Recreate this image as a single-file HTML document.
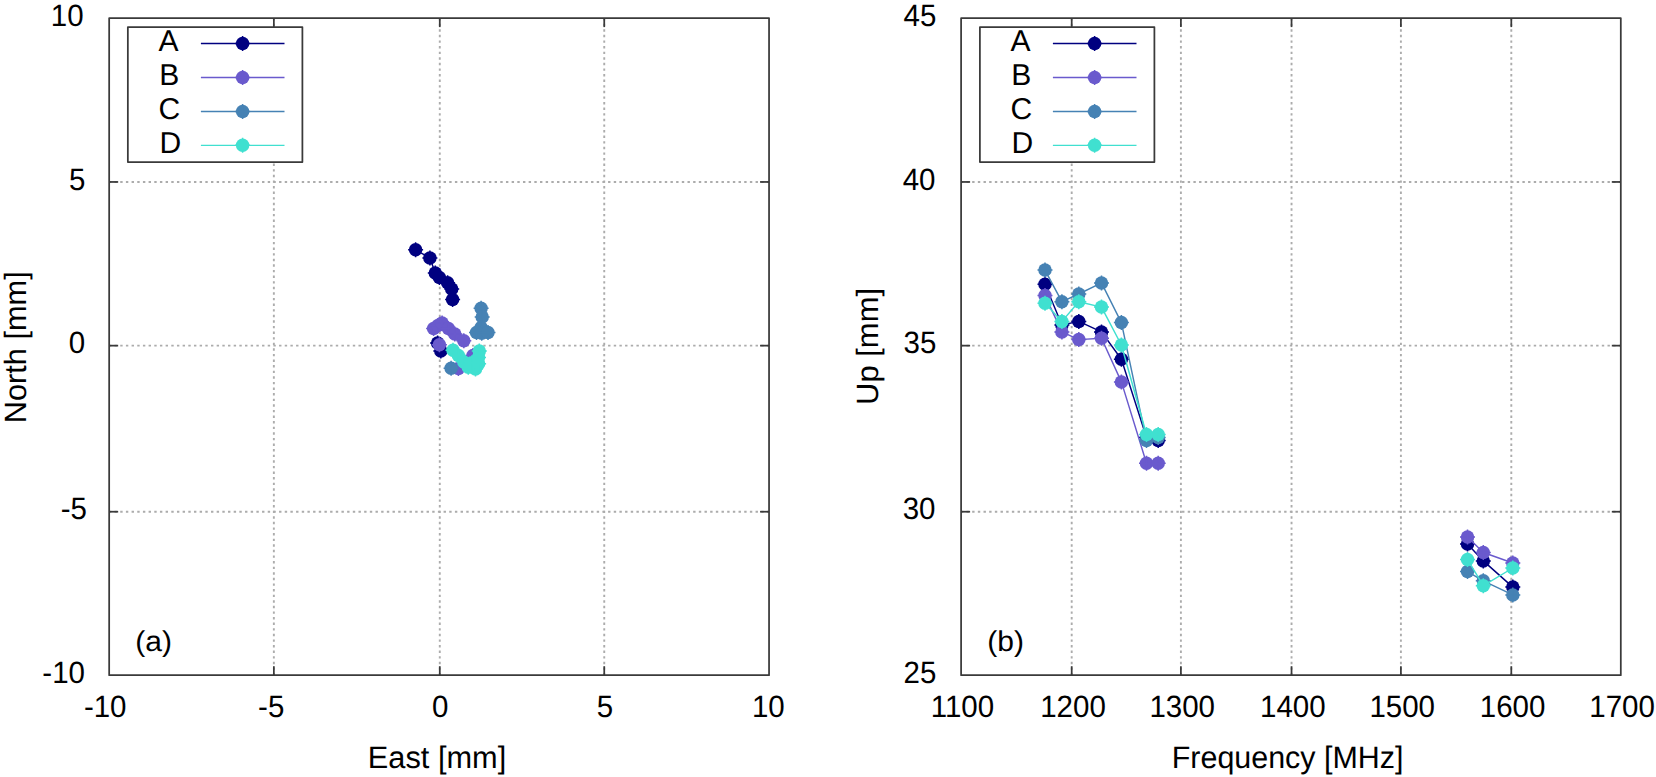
<!DOCTYPE html>
<html lang="en">
<head>
<meta charset="utf-8">
<title>Antenna phase centre offsets</title>
<style>
html,body{margin:0;padding:0;background:#fff;}
body{width:1656px;height:777px;overflow:hidden;}
svg{display:block;}
text{font-family:"Liberation Sans",Arial,Helvetica,sans-serif;font-size:29.5px;fill:#000;text-rendering:geometricPrecision;}
.b{stroke:#3a3a3a;stroke-width:1.75;stroke-linecap:butt;stroke-linejoin:round;}
.g{stroke:#acacac;stroke-width:1.9;fill:none;}
.gh{stroke-dasharray:2.4 3.2725;stroke-dashoffset:0.28;}
.gv{stroke-dasharray:2.4 3.198;stroke-dashoffset:0.206;}
</style>
</head>
<body>
<svg width="1656" height="777" viewBox="0 0 1656 777">
<defs><g id="mk"><circle r="6.75" stroke="none"/><path d="M-7.5,0H7.5M0,-7.5V7.5" stroke-width="1.5" fill="none"/></g></defs>
<rect x="0" y="0" width="1656" height="777" fill="#fff"/>
<g>
<line class="g gv" x1="273.85" y1="675.20" x2="273.85" y2="18.10"/>
<line class="g gv" x1="439.78" y1="675.20" x2="439.78" y2="18.10"/>
<line class="g gv" x1="604.24" y1="675.20" x2="604.24" y2="18.10"/>
<line class="g gh" x1="109.17" y1="181.95" x2="769.05" y2="181.95"/>
<line class="g gh" x1="109.17" y1="345.64" x2="769.05" y2="345.64"/>
<line class="g gh" x1="109.17" y1="511.72" x2="769.05" y2="511.72"/>
<line class="b" x1="273.85" y1="675.20" x2="273.85" y2="666.20"/>
<line class="b" x1="273.85" y1="18.10" x2="273.85" y2="27.10"/>
<line class="b" x1="439.78" y1="675.20" x2="439.78" y2="666.20"/>
<line class="b" x1="439.78" y1="18.10" x2="439.78" y2="27.10"/>
<line class="b" x1="604.24" y1="675.20" x2="604.24" y2="666.20"/>
<line class="b" x1="604.24" y1="18.10" x2="604.24" y2="27.10"/>
<line class="b" x1="109.17" y1="181.95" x2="118.17" y2="181.95"/>
<line class="b" x1="769.05" y1="181.95" x2="760.05" y2="181.95"/>
<line class="b" x1="109.17" y1="345.64" x2="118.17" y2="345.64"/>
<line class="b" x1="769.05" y1="345.64" x2="760.05" y2="345.64"/>
<line class="b" x1="109.17" y1="511.72" x2="118.17" y2="511.72"/>
<line class="b" x1="769.05" y1="511.72" x2="760.05" y2="511.72"/>
<rect class="b" x="109.17" y="18.10" width="659.88" height="657.10" fill="none"/>
<polyline points="415.6,249.8 429.9,258.0 435.3,272.9 439.4,277.5 447.6,282.7 451.7,288.9 452.6,299.4" fill="none" stroke="#000080" stroke-width="1.45" stroke-linejoin="round"/>
<use href="#mk" x="415.6" y="249.8" fill="#000080" stroke="#000080"/>
<use href="#mk" x="429.9" y="258.0" fill="#000080" stroke="#000080"/>
<use href="#mk" x="435.3" y="272.9" fill="#000080" stroke="#000080"/>
<use href="#mk" x="439.4" y="277.5" fill="#000080" stroke="#000080"/>
<use href="#mk" x="447.6" y="282.7" fill="#000080" stroke="#000080"/>
<use href="#mk" x="451.7" y="288.9" fill="#000080" stroke="#000080"/>
<use href="#mk" x="452.6" y="299.4" fill="#000080" stroke="#000080"/>
<polyline points="437.6,343.0 440.8,351.1" fill="none" stroke="#000080" stroke-width="1.45" stroke-linejoin="round"/>
<use href="#mk" x="437.6" y="343.0" fill="#000080" stroke="#000080"/>
<use href="#mk" x="440.8" y="351.1" fill="#000080" stroke="#000080"/>
<polyline points="433.6,328.5 438.0,325.6 442.1,323.1 448.4,328.5 454.8,333.9 463.8,340.7" fill="none" stroke="#6A5ACD" stroke-width="1.45" stroke-linejoin="round"/>
<use href="#mk" x="433.6" y="328.5" fill="#6A5ACD" stroke="#6A5ACD"/>
<use href="#mk" x="438.0" y="325.6" fill="#6A5ACD" stroke="#6A5ACD"/>
<use href="#mk" x="442.1" y="323.1" fill="#6A5ACD" stroke="#6A5ACD"/>
<use href="#mk" x="448.4" y="328.5" fill="#6A5ACD" stroke="#6A5ACD"/>
<use href="#mk" x="454.8" y="333.9" fill="#6A5ACD" stroke="#6A5ACD"/>
<use href="#mk" x="463.8" y="340.7" fill="#6A5ACD" stroke="#6A5ACD"/>
<use href="#mk" x="439.4" y="344.8" fill="#6A5ACD" stroke="#6A5ACD"/>
<use href="#mk" x="473.0" y="355.6" fill="#6A5ACD" stroke="#6A5ACD"/>
<use href="#mk" x="458.4" y="368.6" fill="#6A5ACD" stroke="#6A5ACD"/>
<polyline points="481.1,308.3 482.2,317.0 481.1,327.4 481.7,333.2 476.5,332.4 488.0,332.6" fill="none" stroke="#4682B4" stroke-width="1.45" stroke-linejoin="round"/>
<use href="#mk" x="481.1" y="308.3" fill="#4682B4" stroke="#4682B4"/>
<use href="#mk" x="482.2" y="317.0" fill="#4682B4" stroke="#4682B4"/>
<use href="#mk" x="481.1" y="327.4" fill="#4682B4" stroke="#4682B4"/>
<use href="#mk" x="481.7" y="333.2" fill="#4682B4" stroke="#4682B4"/>
<use href="#mk" x="476.5" y="332.4" fill="#4682B4" stroke="#4682B4"/>
<use href="#mk" x="488.0" y="332.6" fill="#4682B4" stroke="#4682B4"/>
<use href="#mk" x="451.1" y="368.2" fill="#4682B4" stroke="#4682B4"/>
<polyline points="453.0,350.2 458.4,355.6 463.8,361.9 468.3,367.3 475.5,369.1 478.6,363.7 471.9,362.8 478.5,357.4 479.3,351.1" fill="none" stroke="#40E0D0" stroke-width="1.45" stroke-linejoin="round"/>
<use href="#mk" x="453.0" y="350.2" fill="#40E0D0" stroke="#40E0D0"/>
<use href="#mk" x="458.4" y="355.6" fill="#40E0D0" stroke="#40E0D0"/>
<use href="#mk" x="463.8" y="361.9" fill="#40E0D0" stroke="#40E0D0"/>
<use href="#mk" x="468.3" y="367.3" fill="#40E0D0" stroke="#40E0D0"/>
<use href="#mk" x="475.5" y="369.1" fill="#40E0D0" stroke="#40E0D0"/>
<use href="#mk" x="478.6" y="363.7" fill="#40E0D0" stroke="#40E0D0"/>
<use href="#mk" x="471.9" y="362.8" fill="#40E0D0" stroke="#40E0D0"/>
<use href="#mk" x="478.5" y="357.4" fill="#40E0D0" stroke="#40E0D0"/>
<use href="#mk" x="479.3" y="351.1" fill="#40E0D0" stroke="#40E0D0"/>
<rect class="b" x="127.85" y="27.00" width="174.55" height="135.00" fill="#fff"/>
<text transform="translate(158.60,51.30) scale(1.02,1.02)" text-anchor="start" style="font-size:29.5px">A</text>
<line x1="200.90" y1="43.55" x2="284.50" y2="43.55" stroke="#000080" stroke-width="1.45"/>
<use href="#mk" x="242.60" y="43.55" fill="#000080" stroke="#000080"/>
<text transform="translate(159.30,84.75) scale(1.02,1.02)" text-anchor="start" style="font-size:29.5px">B</text>
<line x1="200.90" y1="77.45" x2="284.50" y2="77.45" stroke="#6A5ACD" stroke-width="1.45"/>
<use href="#mk" x="242.60" y="77.45" fill="#6A5ACD" stroke="#6A5ACD"/>
<text transform="translate(158.60,118.75) scale(1.02,1.02)" text-anchor="start" style="font-size:29.5px">C</text>
<line x1="200.90" y1="111.45" x2="284.50" y2="111.45" stroke="#4682B4" stroke-width="1.45"/>
<use href="#mk" x="242.60" y="111.45" fill="#4682B4" stroke="#4682B4"/>
<text transform="translate(159.50,152.65) scale(1.02,1.02)" text-anchor="start" style="font-size:29.5px">D</text>
<line x1="200.90" y1="145.35" x2="284.50" y2="145.35" stroke="#40E0D0" stroke-width="1.45"/>
<use href="#mk" x="242.60" y="145.35" fill="#40E0D0" stroke="#40E0D0"/>
<text transform="translate(83.60,26.40) scale(1.0,1.045)" text-anchor="end" style="font-size:29.5px">10</text>
<text transform="translate(85.40,189.65) scale(1.0,1.045)" text-anchor="end" style="font-size:29.5px">5</text>
<text transform="translate(85.20,353.19) scale(1.0,1.045)" text-anchor="end" style="font-size:29.5px">0</text>
<text transform="translate(87.00,519.47) scale(1.0,1.045)" text-anchor="end" style="font-size:29.5px">-5</text>
<text transform="translate(85.00,682.75) scale(1.0,1.045)" text-anchor="end" style="font-size:29.5px">-10</text>
<text transform="translate(105.20,717.10) scale(1.0,1.045)" text-anchor="middle" style="font-size:29.5px">-10</text>
<text transform="translate(271.20,717.10) scale(1.0,1.045)" text-anchor="middle" style="font-size:29.5px">-5</text>
<text transform="translate(440.30,717.10) scale(1.0,1.045)" text-anchor="middle" style="font-size:29.5px">0</text>
<text transform="translate(605.00,717.10) scale(1.0,1.045)" text-anchor="middle" style="font-size:29.5px">5</text>
<text transform="translate(768.30,717.10) scale(1.0,1.045)" text-anchor="middle" style="font-size:29.5px">10</text>
<text transform="translate(437.00,767.80) scale(1,1.01)" text-anchor="middle" style="font-size:30.75px">East [mm]</text>
<text transform="translate(26.20,347.30) rotate(-90) scale(1,1.0)" text-anchor="middle" style="font-size:30.75px">North [mm]</text>
<text transform="translate(135.30,650.70) scale(1.018,0.975)" text-anchor="start" style="font-size:29.5px">(a)</text>
</g>
<g>
<line class="g gv" x1="1071.70" y1="675.20" x2="1071.70" y2="18.10"/>
<line class="g gv" x1="1180.90" y1="675.20" x2="1180.90" y2="18.10"/>
<line class="g gv" x1="1291.54" y1="675.20" x2="1291.54" y2="18.10"/>
<line class="g gv" x1="1400.90" y1="675.20" x2="1400.90" y2="18.10"/>
<line class="g gv" x1="1511.30" y1="675.20" x2="1511.30" y2="18.10"/>
<line class="g gh" x1="961.10" y1="181.95" x2="1620.80" y2="181.95"/>
<line class="g gh" x1="961.10" y1="345.64" x2="1620.80" y2="345.64"/>
<line class="g gh" x1="961.10" y1="511.72" x2="1620.80" y2="511.72"/>
<line class="b" x1="1071.70" y1="675.20" x2="1071.70" y2="666.20"/>
<line class="b" x1="1071.70" y1="18.10" x2="1071.70" y2="27.10"/>
<line class="b" x1="1180.90" y1="675.20" x2="1180.90" y2="666.20"/>
<line class="b" x1="1180.90" y1="18.10" x2="1180.90" y2="27.10"/>
<line class="b" x1="1291.54" y1="675.20" x2="1291.54" y2="666.20"/>
<line class="b" x1="1291.54" y1="18.10" x2="1291.54" y2="27.10"/>
<line class="b" x1="1400.90" y1="675.20" x2="1400.90" y2="666.20"/>
<line class="b" x1="1400.90" y1="18.10" x2="1400.90" y2="27.10"/>
<line class="b" x1="1511.30" y1="675.20" x2="1511.30" y2="666.20"/>
<line class="b" x1="1511.30" y1="18.10" x2="1511.30" y2="27.10"/>
<line class="b" x1="961.10" y1="181.95" x2="970.10" y2="181.95"/>
<line class="b" x1="1620.80" y1="181.95" x2="1611.80" y2="181.95"/>
<line class="b" x1="961.10" y1="345.64" x2="970.10" y2="345.64"/>
<line class="b" x1="1620.80" y1="345.64" x2="1611.80" y2="345.64"/>
<line class="b" x1="961.10" y1="511.72" x2="970.10" y2="511.72"/>
<line class="b" x1="1620.80" y1="511.72" x2="1611.80" y2="511.72"/>
<rect class="b" x="961.10" y="18.10" width="659.70" height="657.10" fill="none"/>
<polyline points="1045.0,284.3 1061.9,325.0 1078.8,321.4 1101.5,331.9 1121.4,359.3 1146.5,437.5 1158.2,440.6" fill="none" stroke="#000080" stroke-width="1.45" stroke-linejoin="round"/>
<use href="#mk" x="1045.0" y="284.3" fill="#000080" stroke="#000080"/>
<use href="#mk" x="1061.9" y="325.0" fill="#000080" stroke="#000080"/>
<use href="#mk" x="1078.8" y="321.4" fill="#000080" stroke="#000080"/>
<use href="#mk" x="1101.5" y="331.9" fill="#000080" stroke="#000080"/>
<use href="#mk" x="1121.4" y="359.3" fill="#000080" stroke="#000080"/>
<use href="#mk" x="1146.5" y="437.5" fill="#000080" stroke="#000080"/>
<use href="#mk" x="1158.2" y="440.6" fill="#000080" stroke="#000080"/>
<polyline points="1467.5,544.0 1483.3,560.9 1512.8,587.1" fill="none" stroke="#000080" stroke-width="1.45" stroke-linejoin="round"/>
<use href="#mk" x="1467.5" y="544.0" fill="#000080" stroke="#000080"/>
<use href="#mk" x="1483.3" y="560.9" fill="#000080" stroke="#000080"/>
<use href="#mk" x="1512.8" y="587.1" fill="#000080" stroke="#000080"/>
<polyline points="1045.0,295.6 1061.9,331.9 1078.8,339.6 1101.5,338.3 1121.4,381.9 1146.5,463.3 1158.2,463.3" fill="none" stroke="#6A5ACD" stroke-width="1.45" stroke-linejoin="round"/>
<use href="#mk" x="1045.0" y="295.6" fill="#6A5ACD" stroke="#6A5ACD"/>
<use href="#mk" x="1061.9" y="331.9" fill="#6A5ACD" stroke="#6A5ACD"/>
<use href="#mk" x="1078.8" y="339.6" fill="#6A5ACD" stroke="#6A5ACD"/>
<use href="#mk" x="1101.5" y="338.3" fill="#6A5ACD" stroke="#6A5ACD"/>
<use href="#mk" x="1121.4" y="381.9" fill="#6A5ACD" stroke="#6A5ACD"/>
<use href="#mk" x="1146.5" y="463.3" fill="#6A5ACD" stroke="#6A5ACD"/>
<use href="#mk" x="1158.2" y="463.3" fill="#6A5ACD" stroke="#6A5ACD"/>
<polyline points="1467.5,536.9 1483.3,552.5 1512.8,563.0" fill="none" stroke="#6A5ACD" stroke-width="1.45" stroke-linejoin="round"/>
<use href="#mk" x="1467.5" y="536.9" fill="#6A5ACD" stroke="#6A5ACD"/>
<use href="#mk" x="1483.3" y="552.5" fill="#6A5ACD" stroke="#6A5ACD"/>
<use href="#mk" x="1512.8" y="563.0" fill="#6A5ACD" stroke="#6A5ACD"/>
<polyline points="1045.0,270.1 1061.9,301.7 1078.8,294.0 1101.5,282.9 1121.4,322.6 1146.5,440.6 1158.2,437.5" fill="none" stroke="#4682B4" stroke-width="1.45" stroke-linejoin="round"/>
<use href="#mk" x="1045.0" y="270.1" fill="#4682B4" stroke="#4682B4"/>
<use href="#mk" x="1061.9" y="301.7" fill="#4682B4" stroke="#4682B4"/>
<use href="#mk" x="1078.8" y="294.0" fill="#4682B4" stroke="#4682B4"/>
<use href="#mk" x="1101.5" y="282.9" fill="#4682B4" stroke="#4682B4"/>
<use href="#mk" x="1121.4" y="322.6" fill="#4682B4" stroke="#4682B4"/>
<use href="#mk" x="1146.5" y="440.6" fill="#4682B4" stroke="#4682B4"/>
<use href="#mk" x="1158.2" y="437.5" fill="#4682B4" stroke="#4682B4"/>
<polyline points="1467.5,571.6 1483.3,580.8 1512.8,594.9" fill="none" stroke="#4682B4" stroke-width="1.45" stroke-linejoin="round"/>
<use href="#mk" x="1467.5" y="571.6" fill="#4682B4" stroke="#4682B4"/>
<use href="#mk" x="1483.3" y="580.8" fill="#4682B4" stroke="#4682B4"/>
<use href="#mk" x="1512.8" y="594.9" fill="#4682B4" stroke="#4682B4"/>
<polyline points="1045.0,303.3 1061.9,321.4 1078.8,301.7 1101.5,307.1 1121.4,345.0 1146.5,434.5 1158.2,434.5" fill="none" stroke="#40E0D0" stroke-width="1.45" stroke-linejoin="round"/>
<use href="#mk" x="1045.0" y="303.3" fill="#40E0D0" stroke="#40E0D0"/>
<use href="#mk" x="1061.9" y="321.4" fill="#40E0D0" stroke="#40E0D0"/>
<use href="#mk" x="1078.8" y="301.7" fill="#40E0D0" stroke="#40E0D0"/>
<use href="#mk" x="1101.5" y="307.1" fill="#40E0D0" stroke="#40E0D0"/>
<use href="#mk" x="1121.4" y="345.0" fill="#40E0D0" stroke="#40E0D0"/>
<use href="#mk" x="1146.5" y="434.5" fill="#40E0D0" stroke="#40E0D0"/>
<use href="#mk" x="1158.2" y="434.5" fill="#40E0D0" stroke="#40E0D0"/>
<polyline points="1467.5,559.5 1483.3,585.7 1512.8,568.0" fill="none" stroke="#40E0D0" stroke-width="1.45" stroke-linejoin="round"/>
<use href="#mk" x="1467.5" y="559.5" fill="#40E0D0" stroke="#40E0D0"/>
<use href="#mk" x="1483.3" y="585.7" fill="#40E0D0" stroke="#40E0D0"/>
<use href="#mk" x="1512.8" y="568.0" fill="#40E0D0" stroke="#40E0D0"/>
<rect class="b" x="979.90" y="27.00" width="174.50" height="135.00" fill="#fff"/>
<text transform="translate(1010.60,51.30) scale(1.02,1.02)" text-anchor="start" style="font-size:29.5px">A</text>
<line x1="1052.90" y1="43.55" x2="1136.50" y2="43.55" stroke="#000080" stroke-width="1.45"/>
<use href="#mk" x="1094.60" y="43.55" fill="#000080" stroke="#000080"/>
<text transform="translate(1011.30,84.75) scale(1.02,1.02)" text-anchor="start" style="font-size:29.5px">B</text>
<line x1="1052.90" y1="77.45" x2="1136.50" y2="77.45" stroke="#6A5ACD" stroke-width="1.45"/>
<use href="#mk" x="1094.60" y="77.45" fill="#6A5ACD" stroke="#6A5ACD"/>
<text transform="translate(1010.60,118.75) scale(1.02,1.02)" text-anchor="start" style="font-size:29.5px">C</text>
<line x1="1052.90" y1="111.45" x2="1136.50" y2="111.45" stroke="#4682B4" stroke-width="1.45"/>
<use href="#mk" x="1094.60" y="111.45" fill="#4682B4" stroke="#4682B4"/>
<text transform="translate(1011.50,152.65) scale(1.02,1.02)" text-anchor="start" style="font-size:29.5px">D</text>
<line x1="1052.90" y1="145.35" x2="1136.50" y2="145.35" stroke="#40E0D0" stroke-width="1.45"/>
<use href="#mk" x="1094.60" y="145.35" fill="#40E0D0" stroke="#40E0D0"/>
<text transform="translate(936.30,26.40) scale(1.0,1.045)" text-anchor="end" style="font-size:29.5px">45</text>
<text transform="translate(935.50,189.50) scale(1.0,1.045)" text-anchor="end" style="font-size:29.5px">40</text>
<text transform="translate(936.30,353.19) scale(1.0,1.045)" text-anchor="end" style="font-size:29.5px">35</text>
<text transform="translate(935.50,519.27) scale(1.0,1.045)" text-anchor="end" style="font-size:29.5px">30</text>
<text transform="translate(936.30,682.75) scale(1.0,1.045)" text-anchor="end" style="font-size:29.5px">25</text>
<text transform="translate(962.40,717.10) scale(1.0,1.045)" text-anchor="middle" style="font-size:29.5px">1100</text>
<text transform="translate(1073.00,717.10) scale(1.0,1.045)" text-anchor="middle" style="font-size:29.5px">1200</text>
<text transform="translate(1182.20,717.10) scale(1.0,1.045)" text-anchor="middle" style="font-size:29.5px">1300</text>
<text transform="translate(1292.84,717.10) scale(1.0,1.045)" text-anchor="middle" style="font-size:29.5px">1400</text>
<text transform="translate(1402.20,717.10) scale(1.0,1.045)" text-anchor="middle" style="font-size:29.5px">1500</text>
<text transform="translate(1512.60,717.10) scale(1.0,1.045)" text-anchor="middle" style="font-size:29.5px">1600</text>
<text transform="translate(1622.10,717.10) scale(1.0,1.045)" text-anchor="middle" style="font-size:29.5px">1700</text>
<text transform="translate(1287.60,767.80) scale(0.99,1.01)" text-anchor="middle" style="font-size:30.75px">Frequency [MHz]</text>
<text transform="translate(878.00,346.45) rotate(-90) scale(1.008,1.0)" text-anchor="middle" style="font-size:30.75px">Up [mm]</text>
<text transform="translate(987.30,650.70) scale(1.018,0.975)" text-anchor="start" style="font-size:29.5px">(b)</text>
</g>
</svg>
</body>
</html>
